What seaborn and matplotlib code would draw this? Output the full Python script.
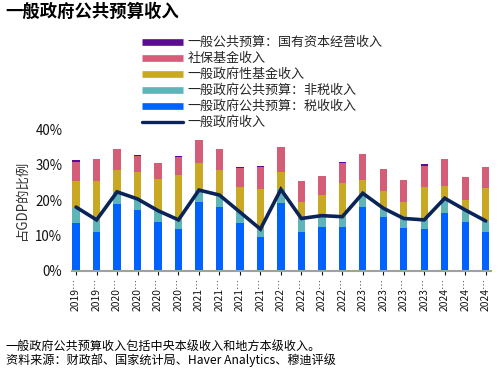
import numpy as np
import pandas as pd
import seaborn as sns
import matplotlib
matplotlib.use("Agg")
import matplotlib.pyplot as plt
from matplotlib.lines import Line2D

# ---- data (percent of GDP) ----
periods = ["2019Q3", "2019Q4",
           "2020Q1", "2020Q2", "2020Q3", "2020Q4",
           "2021Q1", "2021Q2", "2021Q3", "2021Q4",
           "2022Q1", "2022Q2", "2022Q3", "2022Q4",
           "2023Q1", "2023Q2", "2023Q3", "2023Q4",
           "2024Q1", "2024Q2", "2024Q3"]
tick_labels = ["2019…", "2019…",
               "2020…", "2020…", "2020…", "2020…",
               "2021…", "2021…", "2021…", "2021…",
               "2022…", "2022…", "2022…", "2022…",
               "2023…", "2023…", "2023…", "2023…",
               "2024…", "2024…", "2024…"]
tax = [13.6, 11.1, 18.9, 17.2, 13.7, 11.7, 19.4, 18.1, 13.6, 9.7, 19.2,
       11.1, 12.5, 12.5, 18.1, 15.3, 12.2, 11.9, 16.4, 13.9, 11.1]
nontax = [4.2, 3.3, 3.4, 3.1, 3.2, 2.7, 3.4, 3.3, 2.9, 2.1, 3.8,
          3.7, 3.1, 2.8, 3.8, 2.4, 2.6, 2.5, 4.1, 3.3, 3.0]
gov_fund = [7.7, 11.1, 6.3, 7.5, 9.0, 12.6, 7.5, 7.1, 7.1, 11.4, 5.0,
            4.7, 5.7, 9.4, 3.7, 4.8, 4.7, 9.2, 3.5, 2.8, 9.4]
social = [5.3, 6.2, 5.8, 4.6, 4.6, 5.1, 6.6, 5.8, 5.5, 6.2, 7.0,
          5.9, 5.5, 5.7, 7.4, 6.2, 6.1, 6.1, 7.5, 6.4, 5.9]
soe = [0.5, 0.0, 0.0, 0.3, 0.0, 0.3, 0.0, 0.0, 0.2, 0.3, 0.0,
       0.0, 0.0, 0.3, 0.0, 0.0, 0.0, 0.4, 0.0, 0.0, 0.0]
general_rev = [18.0, 14.4, 22.3, 20.3, 17.0, 14.4, 22.8, 21.4, 16.6, 11.8, 23.0,
               14.8, 15.6, 15.3, 21.9, 17.7, 14.8, 14.4, 20.5, 17.2, 14.1]

series_names = ["一般公共预算：国有资本经营收入", "社保基金收入", "一般政府性基金收入",
                "一般政府公共预算：非税收入", "一般政府公共预算：税收收入"]
line_name = "一般政府收入"
colors = ["#5B0C8F", "#D45E78", "#C9A924", "#5FB4B9", "#0062FF"]
line_color = "#0B2458"

df = pd.DataFrame({"period": periods, "tax": tax, "nontax": nontax,
                   "fund": gov_fund, "social": social, "soe": soe,
                   "line": general_rev})
df["c_blue"] = df["tax"]
df["c_teal"] = df["c_blue"] + df["nontax"]
df["c_gold"] = df["c_teal"] + df["fund"]
df["c_pink"] = df["c_gold"] + df["social"]
df["c_purple"] = df["c_pink"] + df["soe"]

sns.set_theme(style="white")
plt.rcParams["font.family"] = ["Noto Sans CJK SC", "DejaVu Sans"]

fig = plt.figure(figsize=(5.0, 3.73), dpi=100)
ax = fig.add_axes([0.144, 0.2735, 0.838, 0.3805])

for col, c in zip(["c_purple", "c_pink", "c_gold", "c_teal", "c_blue"], colors):
    sns.barplot(data=df, x="period", y=col, color=c, width=0.36, ax=ax,
                saturation=1, edgecolor="none", linewidth=0)

sns.lineplot(x=np.arange(len(periods)), y=df["line"].values, ax=ax,
             color=line_color, linewidth=2.6, solid_joinstyle="miter")

ax.set_ylim(0, 40)
ax.set_xlim(-0.2, len(periods) - 1 + 0.26)
ax.set_yticks([0, 10, 20, 30, 40])
ax.set_yticklabels(["0%", "10%", "20%", "30%", "40%"], fontsize=9.6, color="#111111")
ax.set_xticks(np.arange(len(periods)))
ax.set_xticklabels(tick_labels, rotation=90, fontsize=7.4, color="#111111")
ax.tick_params(axis="x", length=3, width=0.8, color="#111111", pad=2, bottom=True)
ax.tick_params(axis="y", length=0, pad=7)
for s in ["top", "right", "left"]:
    ax.spines[s].set_visible(False)
ax.spines["bottom"].set_color("#A0A0A0")
ax.spines["bottom"].set_linewidth(1.5)
ax.set_xlabel("")
ax.set_ylabel("占GDP的比例", fontsize=9.6, color="#333333", labelpad=5)

handles = [Line2D([0], [0], color=c, lw=4.8, solid_capstyle="butt") for c in colors]
handles.append(Line2D([0], [0], color=line_color, lw=2.4, solid_capstyle="round"))
labels = series_names + [line_name]
fig.legend(handles, labels, loc="upper left", bbox_to_anchor=(0.283, 0.903),
           frameon=False, fontsize=9.4, handlelength=3.2, handletextpad=0.35,
           labelspacing=0.23, borderpad=0, borderaxespad=0)

fig.text(0.01, 0.968, "一般政府公共预算收入", fontsize=12.5, fontweight="bold",
         ha="left", va="center", color="#000000")
fig.text(0.012, 0.072, "一般政府公共预算收入包括中央本级收入和地方本级收入。",
         fontsize=8.7, ha="left", va="center", color="#000000")
fig.text(0.012, 0.035, "资料来源：财政部、国家统计局、Haver Analytics、穆迪评级",
         fontsize=8.7, ha="left", va="center", color="#000000")

fig.savefig("out.png", dpi=100)
